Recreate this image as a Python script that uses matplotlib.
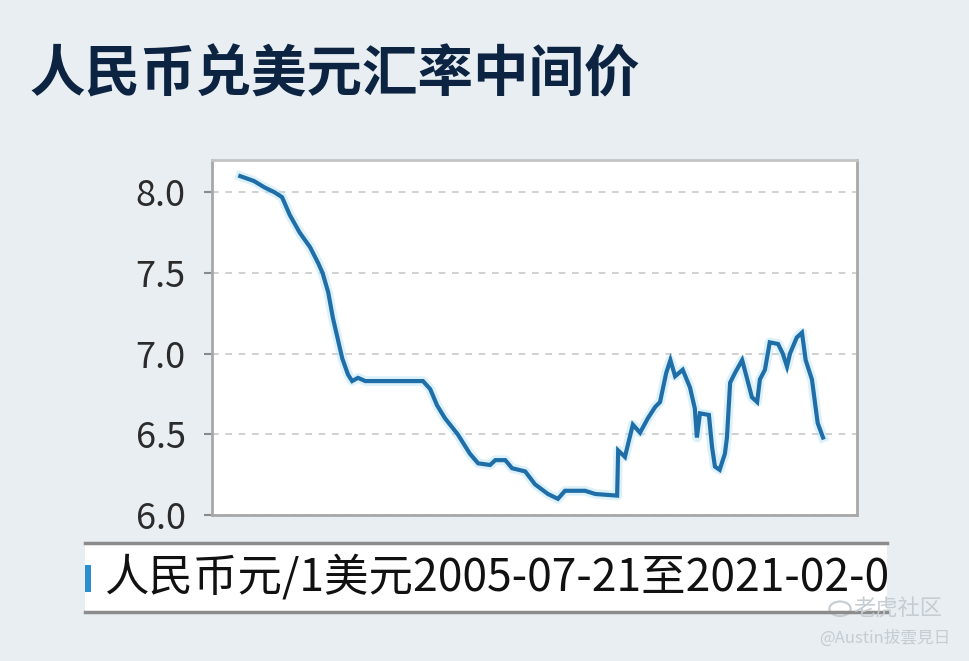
import matplotlib
matplotlib.use("Agg")
import matplotlib.pyplot as plt
from matplotlib.patches import Rectangle, Circle
import pandas as pd

plt.rcParams['font.family'] = ['Noto Sans CJK SC', 'DejaVu Sans']

# data (CNY per 1 USD, central parity)
dates = ['2005-07-21', '2005-12-01', '2006-03-15', '2006-06-20', '2006-09-01',
         '2006-11-15', '2007-02-20', '2007-06-01', '2007-08-20', '2007-10-01',
         '2007-11-25', '2008-01-10', '2008-03-01', '2008-04-10', '2008-06-05',
         '2008-07-15', '2008-09-10', '2008-11-20', '2009-04-10', '2010-06-05',
         '2010-08-15', '2010-10-20', '2011-01-05', '2011-05-10', '2011-09-05',
         '2011-11-25', '2012-03-20', '2012-05-10', '2012-08-15', '2012-10-20',
         '2013-02-25', '2013-06-01', '2013-10-05', '2014-01-10', '2014-03-20',
         '2014-10-01', '2015-01-10', '2015-08-10', '2015-08-20', '2015-10-25',
         '2016-01-10', '2016-03-20', '2016-06-05', '2016-08-15', '2016-10-01',
         '2016-11-30', '2017-01-10', '2017-02-25', '2017-05-10', '2017-07-20',
         '2017-09-05', '2017-09-25', '2017-10-25', '2018-01-20', '2018-02-20',
         '2018-03-20', '2018-05-05', '2018-06-25', '2018-07-15', '2018-08-15',
         '2018-10-01', '2018-12-10', '2019-01-25', '2019-03-15', '2019-05-05',
         '2019-06-01', '2019-07-20', '2019-09-05', '2019-11-25', '2020-01-10',
         '2020-02-20', '2020-03-20', '2020-05-25', '2020-07-15', '2020-08-20',
         '2020-10-20', '2020-11-20', '2020-12-15', '2021-02-05']
rates = [8.10, 8.07, 8.03, 8.00, 7.97,
         7.86, 7.75, 7.66, 7.56, 7.50,
         7.38, 7.22, 7.08, 6.97, 6.87,
         6.83, 6.85, 6.83, 6.83, 6.83,
         6.78, 6.68, 6.60, 6.50, 6.38,
         6.32, 6.31, 6.34, 6.34, 6.29,
         6.27, 6.19, 6.13, 6.10, 6.15,
         6.15, 6.13, 6.12, 6.40, 6.36,
         6.56, 6.51, 6.60, 6.67, 6.70,
         6.88, 6.96, 6.86, 6.90, 6.79,
         6.66, 6.48, 6.63, 6.62, 6.42,
         6.30, 6.28, 6.38, 6.48, 6.82,
         6.88, 6.96, 6.85, 6.73, 6.70,
         6.84, 6.90, 7.07, 7.06, 7.00,
         6.92, 7.00, 7.10, 7.13, 6.96,
         6.84, 6.69, 6.57, 6.48]
yticks = [6.0, 6.5, 7.0, 7.5, 8.0]

title = '人民币兑美元汇率中间价'
legend_text = '人民币元/1美元2005-07-21至2021-02-0'

bg = '#e8eef2'
line_color = '#1f6ea8'

x = pd.to_datetime(dates)

fig = plt.figure(figsize=(9.7, 6.61), dpi=100, facecolor=bg)
ax = fig.add_axes([0.2186, 0.2209, 0.665, 0.537])
ax.set_facecolor('white')

# soft glow + main line
ax.plot(x, rates, color='#b5e2f7', lw=7, alpha=0.45, solid_joinstyle='round')
ax.plot(x, rates, color=line_color, lw=3, solid_joinstyle='miter')

ax.set_xlim(pd.Timestamp('2004-10-19'), pd.Timestamp('2022-01-03'))
ax.set_ylim(6.0, 8.2)
ax.set_yticks(yticks)
ax.set_yticklabels(['%.1f' % v for v in yticks])
ax.set_xticks([])
ax.tick_params(axis='y', labelsize=26, labelcolor='#2b2b2b', color='#8a8a8a',
               length=6, width=1.5, pad=13)
ax.yaxis.grid(True, color='#c8c8c8', linestyle=(0, (4, 4)), linewidth=1.2)
for side in ['left', 'bottom', 'right', 'top']:
    ax.spines[side].set_color('#a8a8a8')
    ax.spines[side].set_linewidth(2)
ax.spines['top'].set_color('#c4c4c4')

# title
fig.text(0.03, 0.886, title, fontsize=40, color='#0c2441', fontweight='bold',
         va='center', ha='left')

# legend strip
strip = Rectangle((0.0876, 0.0741), 0.827, 0.104, transform=fig.transFigure,
                  facecolor='white', edgecolor='none')
fig.patches.append(strip)
for yy in [0.0741, 0.1781]:
    fig.lines.append(plt.Line2D([0.0876, 0.9146], [yy, yy], transform=fig.transFigure,
                                color='#8c8c8c', lw=2.5))
fig.patches.append(Rectangle((0.0876, 0.105), 0.006, 0.04, transform=fig.transFigure,
                             facecolor='#2a8fd0', edgecolor='none'))
t = fig.text(0.107, 0.1256, legend_text, fontsize=32, color='#111111',
             va='center', ha='left')
t.set_clip_path(strip)

# watermark
fig.patches.append(Circle((0.866, 0.079), 0.011, transform=fig.transFigure,
                          facecolor='none', edgecolor='#c5ccd2', lw=1.5))
fig.text(0.88, 0.079, '老虎社区', fontsize=16, color='#c5ccd2', va='center', ha='left')
fig.text(0.98, 0.035, '@Austin拔雲見日', fontsize=12, color='#c5ccd2', va='center', ha='right')

fig.savefig('out.png', dpi=100, facecolor=bg)
